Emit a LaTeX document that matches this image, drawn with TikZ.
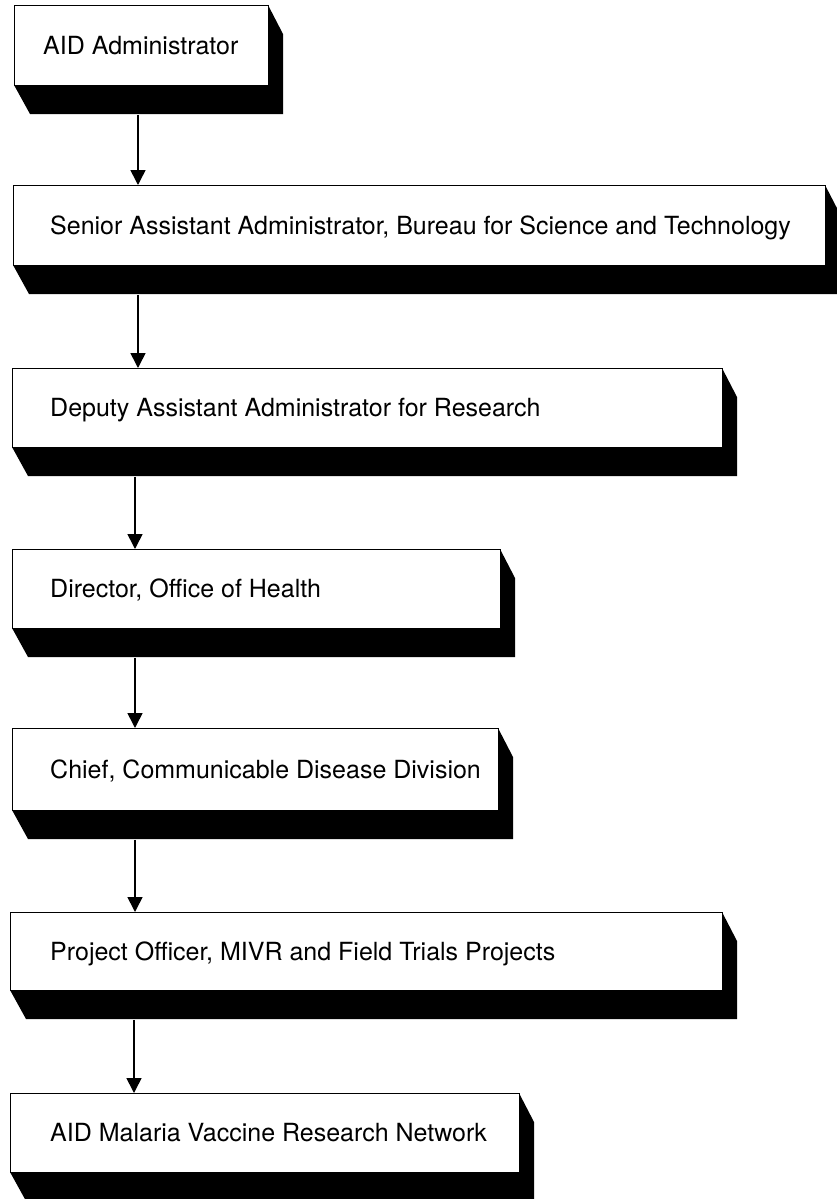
\documentclass[tikz,border=0pt]{standalone}
\usepackage{fontspec}
\setmainfont{TeX Gyre Heros}
\usetikzlibrary{arrows.meta}
\begin{document}
\begin{tikzpicture}[x=1pt,y=-1pt,
  face/.style={draw=black,line width=0.9pt,fill=white,inner sep=0pt,anchor=north west},
  lbl/.style={inner sep=0pt,text height=18pt,text depth=0pt,anchor=west,
              font=\fontsize{25}{30}\selectfont},
  arr/.style={line width=1.6pt,-{Triangle[width=15pt,length=15pt]}}]
\useasboundingbox (0,0) rectangle (836,1199);
% one office: black extruded block, white face, caption
\newcommand\office[7]{% name, x0, y0, x1, y1, text indent, text
  \fill[black] (#2,#5) -- (#4,#5) -- (#4,#3) -- (#4+15,#3+29)
     -- (#4+15,#5+29) -- (#2+16,#5+29) -- cycle;
  \node[face,minimum width=#4-#2,minimum height=#5-#3] (#1) at (#2,#3) {};
  \node[lbl] (#1t) at ([xshift=#6pt]#1.west) {#7};
}
\office{b1}{14}{5}{268}{85}{29}{AID Administrator}
\office{b2}{13}{185}{825}{265}{37}{Senior Assistant Administrator, Bureau for Science and Technology}
\office{b3}{12}{368}{722}{447}{38}{Deputy Assistant Administrator for Research}
\office{b4}{12}{549}{500}{628}{38}{Director, Office of Health}
\office{b5}{12}{728}{498}{810}{38}{Chief, Communicable Disease Division}
\office{b6}{10}{912}{722}{990}{40}{Project Officer, MIVR and Field Trials Projects}
\office{b7}{10}{1093}{519}{1172}{40}{AID Malaria Vaccine Research Network}
% chain of command
\draw[arr] ([shift={(124,29)}]b1.south west) -- ([xshift=124pt]b1.south west |- b2.north);
\draw[arr] ([shift={(125,29)}]b2.south west) -- ([xshift=125pt]b2.south west |- b3.north);
\draw[arr] ([shift={(123,29)}]b3.south west) -- ([xshift=123pt]b3.south west |- b4.north);
\draw[arr] ([shift={(123,29)}]b4.south west) -- ([xshift=123pt]b4.south west |- b5.north);
\draw[arr] ([shift={(123,29)}]b5.south west) -- ([xshift=123pt]b5.south west |- b6.north);
\draw[arr] ([shift={(124,29)}]b6.south west) -- ([xshift=124pt]b6.south west |- b7.north);
\end{tikzpicture}
\end{document}
